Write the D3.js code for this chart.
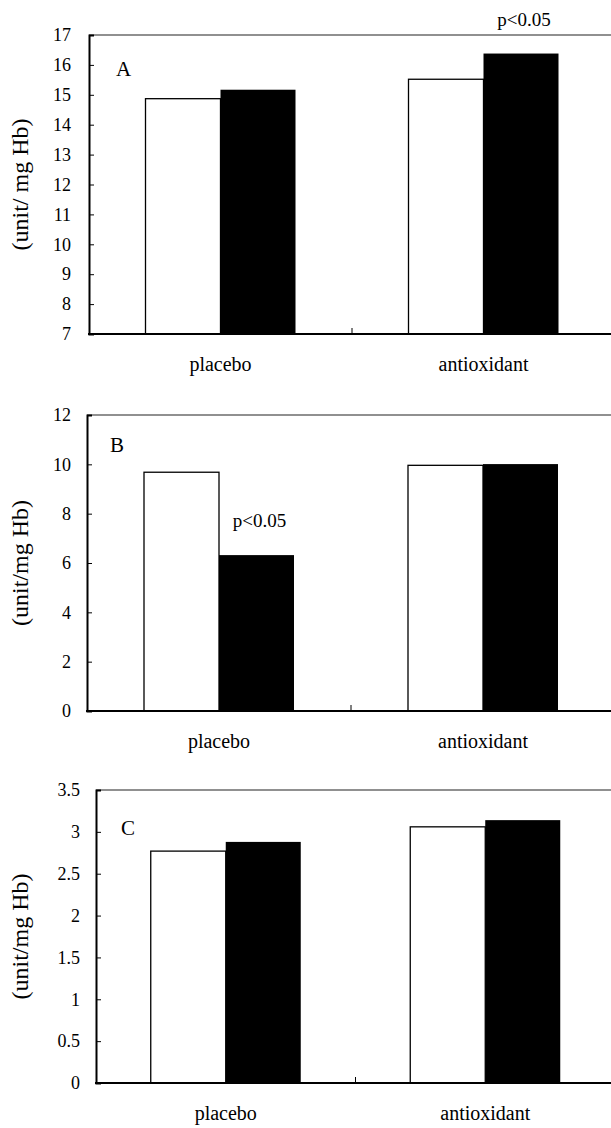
<!DOCTYPE html>
<html><head><meta charset="utf-8">
<script src="https://cdn.jsdelivr.net/npm/d3@7"></script>
<style>
body{margin:0;background:#fff}
svg{display:block}
svg text{font-family:"Liberation Serif","Times New Roman",Tinos,"DejaVu Serif",serif !important;fill:#000}
</style>
</head><body>
<svg id="chart" width="611" height="1128"></svg>
<script>
// ---- data ----
const categories = ["placebo", "antioxidant"];
const series = ["before", "after"];           // white bar, black bar
const panelLabels = ["A", "B", "C"];
const yTitles = ["(unit/ mg Hb)", "(unit/mg Hb)", "(unit/mg Hb)"];
const valuesA = [[14.87, 15.17], [15.52, 16.38]];
const valuesB = [[9.68, 6.32], [9.96, 10.01]];
const valuesC = [[2.77, 2.88], [3.06, 3.14]];
const ticksA = [7, 8, 9, 10, 11, 12, 13, 14, 15, 16, 17];
const ticksB = [0, 2, 4, 6, 8, 10, 12];
const ticksC = [0, 0.5, 1, 1.5, 2, 2.5, 3, 3.5];
const sigA = {cat: 1, ser: 1, text: "p<0.05"};
const sigB = {cat: 0, ser: 1, text: "p<0.05"};

// ---- layout (style) ----
const FONT = '"Liberation Serif","Times New Roman",Tinos,serif';
const panels = [
  {values: valuesA, ticks: ticksA, sig: sigA, left: 89, top: 35, bottom: 334, lx: 116, ly: 76, pad: 18},
  {values: valuesB, ticks: ticksB, sig: sigB, left: 87, top: 415, bottom: 711, lx: 110, ly: 452, pad: 16},
  {values: valuesC, ticks: ticksC, sig: null, left: 96, top: 790, bottom: 1083, lx: 121, ly: 835, pad: 16}
];
const right = 615;
const barW = 75;
const svg = d3.select("#chart");

panels.forEach((p, i) => {
  const g = svg.append("g").attr("font-family", FONT);
  const y = d3.scaleLinear().domain(d3.extent(p.ticks)).range([p.bottom, p.top]);
  const x0 = d3.scaleBand().domain(categories).range([p.left, right]).padding(0);
  const bw = x0.bandwidth();
  const x1 = d3.scaleBand().domain(series).range([bw / 2 - barW, bw / 2 + barW]).padding(0);

  // top frame line
  g.append("line").attr("x1", p.left).attr("x2", right).attr("y1", p.top).attr("y2", p.top)
    .attr("stroke", "#222").attr("stroke-width", 1.2);

  // bars
  const groups = g.selectAll(".grp").data(categories).join("g")
    .attr("transform", d => `translate(${x0(d)},0)`);
  groups.selectAll("rect").data((c, ci) => series.map((s, si) => ({s, v: p.values[ci][si]})))
    .join("rect")
    .attr("x", d => x1(d.s))
    .attr("width", x1.bandwidth())
    .attr("y", d => y(d.v))
    .attr("height", d => p.bottom - y(d.v))
    .attr("fill", d => d.s === series[0] ? "#fff" : "#000")
    .attr("stroke", "#000")
    .attr("stroke-width", d => d.s === series[0] ? 1.3 : 0);

  // left axis with inward ticks
  const ay = d3.axisLeft(y).tickValues(p.ticks).tickSize(-5).tickPadding(p.pad)
    .tickFormat(d => String(d));
  const axg = g.append("g").attr("transform", `translate(${p.left},0)`).call(ay)
    .attr("font-family", FONT).attr("font-size", 18);
  axg.select(".domain").attr("stroke", "#000").attr("stroke-width", 2);
  axg.selectAll(".tick line").attr("stroke", "#000").attr("stroke-width", 1);
  axg.selectAll(".tick text").attr("font-family", FONT).attr("font-size", 18).attr("fill", "#000");

  // bottom axis line
  g.append("line").attr("x1", p.left - 1).attr("x2", right).attr("y1", p.bottom).attr("y2", p.bottom)
    .attr("stroke", "#000").attr("stroke-width", 2);
  // separator tick between categories
  g.append("line").attr("x1", x0(categories[1])).attr("x2", x0(categories[1]))
    .attr("y1", p.bottom).attr("y2", p.bottom - 6).attr("stroke", "#000").attr("stroke-width", 1);

  // category labels
  g.selectAll(".cat").data(categories).join("text")
    .attr("x", d => x0(d) + bw / 2).attr("y", p.bottom + 37)
    .attr("text-anchor", "middle").attr("font-family", FONT).attr("font-size", 20).text(d => d);

  // panel letter
  g.append("text").attr("x", p.lx).attr("y", p.ly).attr("font-family", FONT)
    .attr("font-size", 21).text(panelLabels[i]);

  // y title
  g.append("text").attr("transform", `translate(28,${(p.top + p.bottom) / 2}) rotate(-90)`)
    .attr("text-anchor", "middle").attr("font-family", FONT).attr("font-size", 24).text(yTitles[i]);

  // significance
  if (p.sig) {
    const c = categories[p.sig.cat], s = series[p.sig.ser];
    const v = p.values[p.sig.cat][p.sig.ser];
    g.append("text").attr("x", x0(c) + x1(s) + x1.bandwidth() / 2 + 3).attr("y", y(v) - 28)
      .attr("text-anchor", "middle").attr("font-family", FONT).attr("font-size", 19).text(p.sig.text);
  }
});
</script>
</body></html>
